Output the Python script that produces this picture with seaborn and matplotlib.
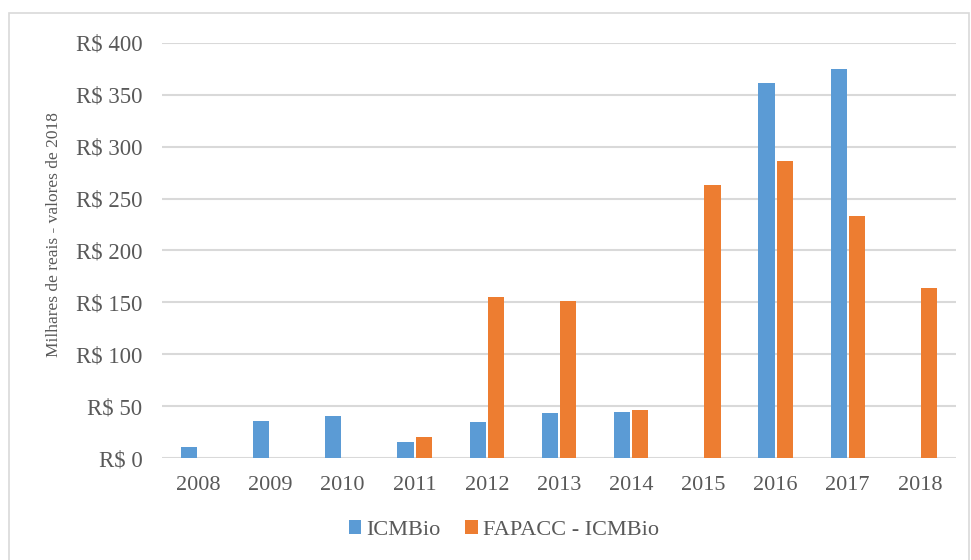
import numpy as np
import pandas as pd
import seaborn as sns
import matplotlib.pyplot as plt
from matplotlib.patches import Rectangle
from matplotlib.ticker import FuncFormatter, MultipleLocator

# Annual spending, thousands of reais (2018 values)
years = ["2008", "2009", "2010", "2011", "2012", "2013", "2014", "2015", "2016", "2017", "2018"]
icmbio = [10.3, 36, 40.5, 15, 35, 43.5, 44.5, np.nan, 361, 375, np.nan]
fapacc = [np.nan, np.nan, np.nan, 20, 155.5, 151.5, 46.5, 263.5, 286, 233.5, 164]
series = ["ICMBio", "FAPACC - ICMBio"]
colors = ["#5B9BD5", "#ED7D31"]

df = pd.DataFrame({
    "ano": years * 2,
    "valor": icmbio + fapacc,
    "fonte": [series[0]] * len(years) + [series[1]] * len(years),
}).dropna()

sns.set_theme(style="white")
plt.rcParams["font.family"] = ["Liberation Serif", "DejaVu Serif"]
text_color = "#595959"

fig = plt.figure(figsize=(9.71, 5.6), dpi=100)
ax = fig.add_axes([162 / 971, 1 - 458 / 560, (956 - 162) / 971, (458 - 43) / 560])

sns.barplot(data=df, x="ano", y="valor", hue="fonte", order=years,
            hue_order=series, palette=colors, width=0.505, gap=0.11,
            linewidth=0, saturation=1, ax=ax)

ax.set_ylim(0, 400)
ax.set_xlim(-0.5, len(years) - 0.5)
ax.yaxis.set_major_locator(MultipleLocator(50))
ax.yaxis.set_major_formatter(FuncFormatter(lambda v, p: f"R$ {v:.0f}"))
ax.grid(axis="y", color="#D9D9D9", linewidth=1.5)
ax.set_axisbelow(True)
for s in ax.spines.values():
    s.set_visible(False)
ax.tick_params(axis="both", length=0, labelcolor=text_color)
ax.tick_params(axis="y", pad=14, labelsize=16.5)
ax.tick_params(axis="x", pad=13, labelsize=16)
ax.set_xlabel("")
ax.set_ylabel("Milhares de reais - valores de 2018", fontsize=12.5,
              color=text_color)
ax.yaxis.set_label_coords((62 - 162) / 794, (458 - 235) / 415)

ax.legend(loc="center", bbox_to_anchor=(504 / 971, 1 - 530 / 560),
          bbox_transform=fig.transFigure, ncol=2, frameon=False,
          fontsize=16, handlelength=0.55, handleheight=0.55,
          handletextpad=0.25, columnspacing=1.1, labelcolor=text_color)

fig.patches.append(Rectangle((9 / 971, -0.01), (969 - 9) / 971, 1 - 13 / 560 + 0.01,
                             transform=fig.transFigure, fill=False,
                             edgecolor="#D9D9D9", linewidth=1.2))

fig.savefig("out.png", dpi=100, facecolor="white")
